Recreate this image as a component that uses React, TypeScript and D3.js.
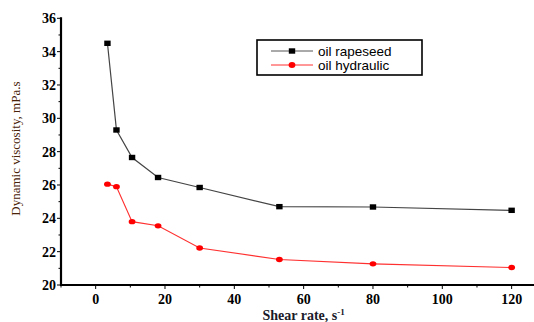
import React from "react";
import * as d3 from "d3";

const shearRates = [3.4, 6, 10.5, 18, 30, 53, 80, 120];
const rapeseed = [34.5, 29.3, 27.65, 26.45, 25.85, 24.7, 24.68, 24.48];
const hydraulic = [26.05, 25.9, 23.8, 23.55, 22.22, 21.53, 21.27, 21.05];
const xTicks = [0, 20, 40, 60, 80, 100, 120];
const yTicks = [20, 22, 24, 26, 28, 30, 32, 34, 36];
const legendLabels = ["oil rapeseed", "oil hydraulic"];

const width = 534;
const height = 322;
const serif = "'Liberation Serif', 'Times New Roman', serif";

const x = d3.scaleLinear().domain([-10, 130]).range([61, 546.3]);
const y = d3.scaleLinear().domain([20, 36]).range([285, 18.3]);

const line = d3
  .line<number>()
  .x((_, i) => x(shearRates[i]))
  .y(d => y(d));

export default function App() {
  const xMinor = d3.range(-10, 131, 10);
  const yMinor = d3.range(20, 36.1, 1);
  return (
    <svg
      width={width}
      height={height}
      style={{ position: "absolute", left: 0, top: 0, background: "#fff" }}
    >
      {/* series */}
      <path d={line(rapeseed) || ""} fill="none" stroke="#444" strokeWidth={1.2} />
      <path d={line(hydraulic) || ""} fill="none" stroke="#ff3030" strokeWidth={1.1} />
      {rapeseed.map((v, i) => (
        <rect
          key={"r" + i}
          x={x(shearRates[i]) - 3.2}
          y={y(v) - 2.7}
          width={6.4}
          height={5.4}
          fill="#000"
        />
      ))}
      {hydraulic.map((v, i) => (
        <ellipse
          key={"h" + i}
          cx={x(shearRates[i])}
          cy={y(v)}
          rx={3.4}
          ry={2.7}
          fill="#ff0000"
        />
      ))}

      {/* axes */}
      <line x1={x(-10)} x2={width} y1={y(20)} y2={y(20)} stroke="#000" strokeWidth={2.2} />
      <line x1={x(-10)} x2={x(-10)} y1={y(36) - 1} y2={y(20) + 1} stroke="#000" strokeWidth={2.2} />
      {xMinor.map(t => (
        <line
          key={"xt" + t}
          x1={x(t)}
          x2={x(t)}
          y1={y(20)}
          y2={y(20) + (t % 20 === 0 ? 4 : 2.5)}
          stroke="#000"
          strokeWidth={1}
        />
      ))}
      {yMinor.map(t => (
        <line
          key={"yt" + t}
          x1={x(-10) - (t % 2 === 0 ? 4 : 2.5)}
          x2={x(-10)}
          y1={y(t)}
          y2={y(t)}
          stroke="#000"
          strokeWidth={1}
        />
      ))}
      {xTicks.map(t => (
        <text
          key={"xl" + t}
          x={x(t)}
          y={y(20) + 19}
          textAnchor="middle"
          fontFamily={serif}
          fontWeight="bold"
          fontSize={14}
        >
          {t}
        </text>
      ))}
      {yTicks.map(t => (
        <text
          key={"yl" + t}
          x={x(-10) - 5}
          y={y(t) + 5}
          textAnchor="end"
          fontFamily={serif}
          fontWeight="bold"
          fontSize={14}
        >
          {t}
        </text>
      ))}
      <text
        x={x(60)}
        y={320}
        textAnchor="middle"
        fontFamily={serif}
        fontWeight="bold"
        fontSize={14}
        fill="#1a1a2a"
      >
        Shear rate, s
        <tspan dy={-5} fontSize={9}>-1</tspan>
      </text>
      <text
        transform={`translate(20, ${y(28) - 3}) rotate(-90)`}
        textAnchor="middle"
        fontFamily={serif}
        fontSize={13}
        fill="#4a2208"
      >
        Dynamic viscosity, mPa.s
      </text>

      {/* legend */}
      <rect x={257} y={40} width={165} height={35} fill="#fff" stroke="#000" strokeWidth={1.6} />
      {legendLabels.map((label, i) => (
        <g key={label} transform={`translate(271, ${51 + i * 14})`}>
          <line
            x1={0}
            x2={42}
            y1={0}
            y2={0}
            stroke={i === 0 ? "#555" : "#ff3030"}
            strokeWidth={1}
          />
          {i === 0 ? (
            <rect x={17.8} y={-2.7} width={6.4} height={5.4} fill="#000" />
          ) : (
            <ellipse cx={21} cy={0} rx={3.4} ry={3} fill="#ff0000" />
          )}
          <text x={47} y={4.5} fontFamily="'Liberation Sans', Arial, sans-serif" fontSize={13.5} fill="#000">
            {label}
          </text>
        </g>
      ))}
    </svg>
  );
}
